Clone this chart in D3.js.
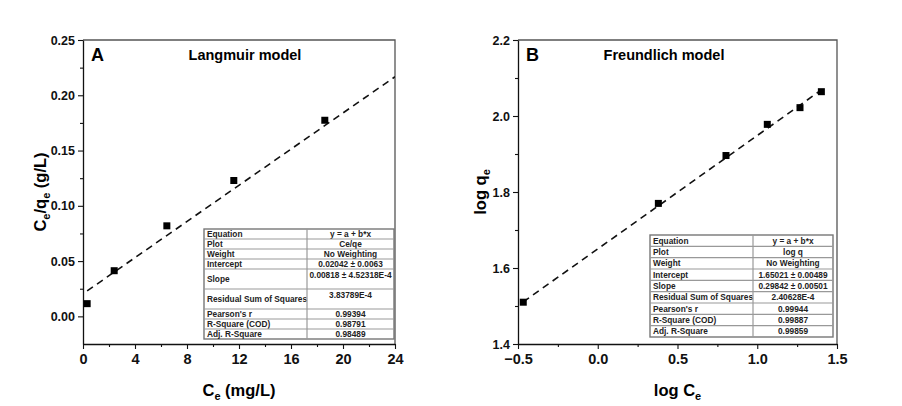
<!DOCTYPE html>
<html><head><meta charset="utf-8">
<script src="https://cdn.jsdelivr.net/npm/d3@7"></script>
<style>
html,body{margin:0;padding:0;background:#fff;}
svg{display:block;font-family:"Liberation Sans",Arial,sans-serif;}
</style></head>
<body><svg id="c" width="902" height="406"></svg>
<script>
// ---- data ----
const langCe = [0.32, 2.40, 6.45, 11.6, 18.6];
const langCeQe = [0.0115, 0.0413, 0.0819, 0.1229, 0.1774];
const langFitCoef = [0.02042, 0.00818];   // a, b
const langFitX = [0.32, 24];
const langXTicks = [0, 4, 8, 12, 16, 20, 24];
const langXMinor = [2, 6, 10, 14, 18, 22];
const langYTicks = [0, 0.05, 0.10, 0.15, 0.20, 0.25];
const langYMinor = [-0.025, 0.025, 0.075, 0.125, 0.175, 0.225];

const freuLogC = [-0.467, 0.380, 0.804, 1.063, 1.268, 1.402];
const freuLogQ = [1.510, 1.770, 1.896, 1.978, 2.022, 2.064];
const freuFitCoef = [1.65021, 0.29842];
const freuFitX = [-0.467, 1.402];
const freuXTicks = [-0.5, 0, 0.5, 1.0, 1.5];
const freuXMinor = [-0.25, 0.25, 0.75, 1.25];
const freuYTicks = [1.4, 1.6, 1.8, 2.0, 2.2];
const freuYMinor = [1.5, 1.7, 1.9, 2.1];

const tableLabels = ["Equation","Plot","Weight","Intercept","Slope","Residual Sum of Squares","Pearson's r","R-Square (COD)","Adj. R-Square"];
const langTableValues = ["y = a + b*x","Ce/qe","No Weighting","0.02042 ± 0.0063","0.00818 ± 4.52318E-4","3.83789E-4","0.99394","0.98791","0.98489"];
const freuTableValues = ["y = a + b*x","log q","No Weighting","1.65021 ± 0.00489","0.29842 ± 0.00501","2.40628E-4","0.99944","0.99887","0.99859"];

const svg = d3.select("#c");

function panel(o){
  const x = d3.scaleLinear().domain(o.xDomain).range([o.left, o.right]);
  const y = d3.scaleLinear().domain(o.yDomain).range([o.bottom, o.top]);
  const g = svg.append("g");
  const clipId = "clip" + o.id;
  svg.append("clipPath").attr("id", clipId).append("rect")
    .attr("x", o.left).attr("y", o.top).attr("width", o.right - o.left).attr("height", o.bottom - o.top);

  // frame top/right
  g.append("path").attr("d", `M${o.left},${o.top}H${o.right}V${o.bottom}`)
    .attr("fill","none").attr("stroke","#555").attr("stroke-width",1.3);

  // axes
  const xa = g.append("g").attr("transform",`translate(0,${o.bottom})`)
    .call(d3.axisBottom(x).tickValues(o.xTicks).tickFormat(o.xFmt).tickSize(5).tickSizeOuter(0).tickPadding(5));
  xa.selectAll("text").attr("font-size",14.5).attr("font-weight","bold").attr("fill","#111");
  g.append("g").attr("transform",`translate(0,${o.bottom})`)
    .call(d3.axisBottom(x).tickValues(o.xMinor).tickFormat("").tickSize(3).tickSizeOuter(0))
    .select(".domain").remove();
  const ya = g.append("g").attr("transform",`translate(${o.left},0)`)
    .call(d3.axisLeft(y).tickValues(o.yTicks).tickFormat(o.yFmt).tickSize(5).tickSizeOuter(0).tickPadding(3));
  ya.selectAll("text").attr("font-size",12.5).attr("font-weight","bold").attr("fill","#111");
  g.append("g").attr("transform",`translate(${o.left},0)`)
    .call(d3.axisLeft(y).tickValues(o.yMinor.filter(v=>v>o.yDomain[0])).tickFormat("").tickSize(3).tickSizeOuter(0))
    .select(".domain").remove();
  g.selectAll(".domain").attr("stroke","#111").attr("stroke-width",1.3);
  g.selectAll(".tick line").attr("stroke","#111").attr("stroke-width",1.1);

  // fit line
  const fx = o.fitX;
  g.append("line").attr("clip-path",`url(#${clipId})`)
    .attr("x1", x(fx[0])).attr("y1", y(o.coef[0] + o.coef[1]*fx[0]))
    .attr("x2", x(fx[1])).attr("y2", y(o.coef[0] + o.coef[1]*fx[1]))
    .attr("stroke","#111").attr("stroke-width",1.6).attr("stroke-dasharray","7,5");

  // points
  const s = 7;
  g.selectAll("rect.pt").data(o.xs.map((v,i)=>[v,o.ys[i]])).join("rect").attr("class","pt")
    .attr("x", d=>x(d[0])-s/2).attr("y", d=>y(d[1])-s/2).attr("width",s).attr("height",s).attr("fill","#000");

  // labels
  g.append("text").attr("x", o.left+8).attr("y", o.top+21).attr("font-size",18).attr("font-weight","bold").text(o.letter);
  g.append("text").attr("x", o.titleX).attr("y", o.top+20).attr("text-anchor","middle")
    .attr("font-size",14.5).attr("font-weight","bold").text(o.title);

  // x title
  const xt = g.append("text").attr("x",(o.left+o.right)/2).attr("y",396).attr("text-anchor","middle")
    .attr("font-size",16.5).attr("font-weight","bold");
  o.xTitle.forEach(p=>{
    const t = xt.append("tspan").text(p[0]);
    if(p[1]) t.attr("font-size",11).attr("dy",4); else t.attr("dy", p[2]||0);
  });
  const yt = g.append("text").attr("transform",`translate(${o.yTitleX},${(o.top+o.bottom)/2}) rotate(-90)`)
    .attr("text-anchor","middle").attr("font-size",16.5).attr("font-weight","bold");
  o.yTitle.forEach(p=>{
    const t = yt.append("tspan").text(p[0]);
    if(p[1]) t.attr("font-size",11).attr("dy",4); else t.attr("dy", p[2]||0);
  });

  // table
  const T = o.table;
  const tg = g.append("g").attr("font-family",'"Liberation Sans Narrow","Arial Narrow","Liberation Sans",sans-serif')
    .attr("font-size",8.3).attr("font-weight","bold").attr("fill","#222");
  const total = d3.sum(T.rowUnits);
  const rowY = d3.scaleLinear().domain([0,total]).range([T.top, T.bottom]);
  let cum = 0;
  tg.append("rect").attr("x",T.left).attr("y",T.top).attr("width",T.right-T.left).attr("height",T.bottom-T.top)
    .attr("fill","#fff").attr("stroke","#777").attr("stroke-width",1.4);
  tableLabels.forEach((lab,i)=>{
    const y0 = rowY(cum), y1 = rowY(cum + T.rowUnits[i]);
    cum += T.rowUnits[i];
    if(i>0) tg.append("line").attr("x1",T.left).attr("x2",T.right).attr("y1",y0).attr("y2",y0)
      .attr("stroke","#999").attr("stroke-width",1.2);
    const tall = T.rowUnits[i] > 1;
    tg.append("text").attr("x",T.left+3).attr("y",(y0+y1)/2+3).text(lab);
    tg.append("text").attr("x",(T.mid+T.right)/2).attr("y", tall ? y0+9 : (y0+y1)/2+3)
      .attr("text-anchor","middle").text(T.values[i]);
  });
  tg.append("line").attr("x1",T.mid).attr("x2",T.mid).attr("y1",T.top).attr("y2",T.bottom)
    .attr("stroke","#999").attr("stroke-width",1.2);
}

panel({
  id:"A", left:83, right:395, top:40, bottom:344,
  xDomain:[0,24], yDomain:[-0.025,0.25],
  xTicks:langXTicks, xMinor:langXMinor, yTicks:langYTicks, yMinor:langYMinor,
  xFmt:d3.format("d"), yFmt:d3.format(".2f"),
  xs:langCe, ys:langCeQe, coef:langFitCoef, fitX:langFitX,
  letter:"A", title:"Langmuir model", titleX:245,
  xTitle:[["C"],["e",true],[" (mg/L)",false,-4]],
  yTitle:[["C"],["e",true],["/q",false,-4],["e",true],[" (g/L)",false,-4]], yTitleX:46,
  table:{left:204, right:394, mid:307, top:229, bottom:339, rowUnits:[1,1,1,1,2,2,1,1,1], values:langTableValues}
});
panel({
  id:"B", left:518, right:837, top:40, bottom:344,
  xDomain:[-0.5,1.5], yDomain:[1.4,2.2],
  xTicks:freuXTicks, xMinor:freuXMinor, yTicks:freuYTicks, yMinor:freuYMinor,
  xFmt:d3.format(".1f"), yFmt:d3.format(".1f"),
  xs:freuLogC, ys:freuLogQ, coef:freuFitCoef, fitX:freuFitX,
  letter:"B", title:"Freundlich model", titleX:664,
  xTitle:[["log C"],["e",true]],
  yTitle:[["log q"],["e",true]], yTitleX:486,
  table:{left:650, right:833, mid:753, top:235, bottom:337, rowUnits:[1,1,1,1,1,1,1,1,1], values:freuTableValues}
});
</script></body></html>
